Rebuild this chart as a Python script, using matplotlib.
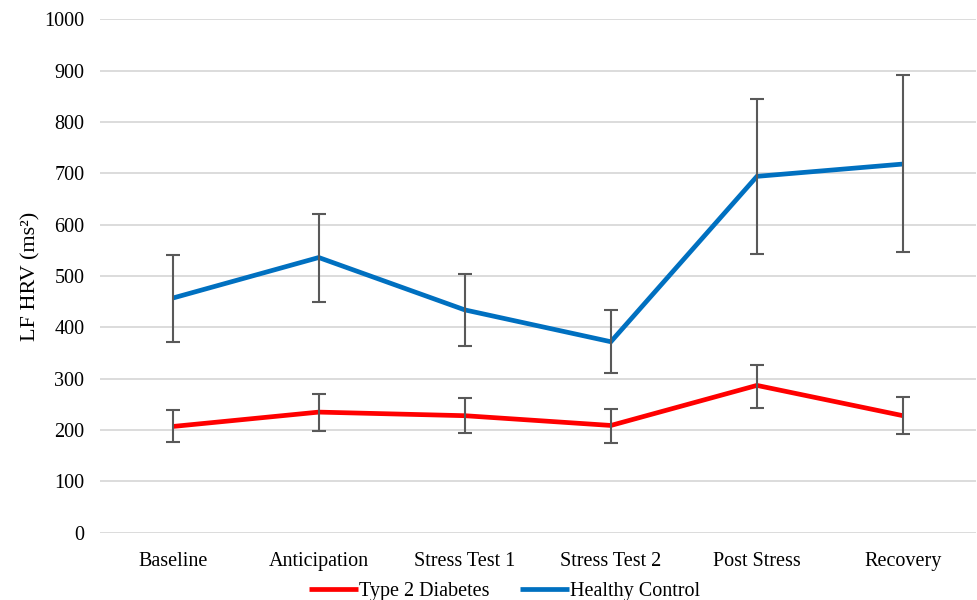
import matplotlib.pyplot as plt
import numpy as np

phases = ['Baseline', 'Anticipation', 'Stress Test 1', 'Stress Test 2', 'Post Stress', 'Recovery']

t2d_mean = [207, 235, 228, 209, 287, 228]
t2d_low = [176, 198, 194, 175, 243, 192]
t2d_high = [239, 270, 262, 241, 326, 265]

hc_mean = [457, 536, 434, 372, 694, 718]
hc_low = [371, 449, 364, 311, 542, 546]
hc_high = [541, 620, 503, 433, 844, 891]

yticks = [0, 100, 200, 300, 400, 500, 600, 700, 800, 900, 1000]

plt.rcParams['font.family'] = ['Liberation Serif', 'DejaVu Serif']

fig = plt.figure(figsize=(9.77, 6), dpi=100)
ax = fig.add_axes([0.102, 0.112, 0.897, 0.856])

x = np.arange(len(phases))


def draw(ax, mean, low, high, color, label):
    mean = np.array(mean)
    err = [mean - np.array(low), np.array(high) - mean]
    ax.plot(x, mean, color=color, lw=3.4, label=label, zorder=3,
            solid_joinstyle='miter', solid_capstyle='butt')
    ax.errorbar(x, mean, yerr=err, fmt='none', ecolor='#595959',
                elinewidth=1.5, capsize=5, capthick=1.5, zorder=4)


draw(ax, t2d_mean, t2d_low, t2d_high, '#FF0000', 'Type 2 Diabetes')
draw(ax, hc_mean, hc_low, hc_high, '#0070C0', 'Healthy Control')

ax.set_xlim(-0.5, len(phases) - 0.5)
ax.set_ylim(0, 1000)
ax.set_yticks(yticks)
ax.set_xticks(x)
ax.set_xticklabels(phases)
ax.grid(axis='y', color='#D9D9D9', lw=1.3, zorder=0)
ax.set_axisbelow(True)
for s in ax.spines.values():
    s.set_visible(False)
ax.tick_params(length=0, labelsize=14.5, pad=14)
ax.tick_params(axis='y', pad=11)
ax.set_ylabel('LF HRV (ms²)', fontsize=16, labelpad=3)

ax.legend(loc='center', bbox_to_anchor=(0.462, -0.114), ncol=2,
          frameon=False, fontsize=14.5, handlelength=2.4, handletextpad=0.05,
          columnspacing=1.55)

plt.savefig('out.png', dpi=100)
plt.close()
